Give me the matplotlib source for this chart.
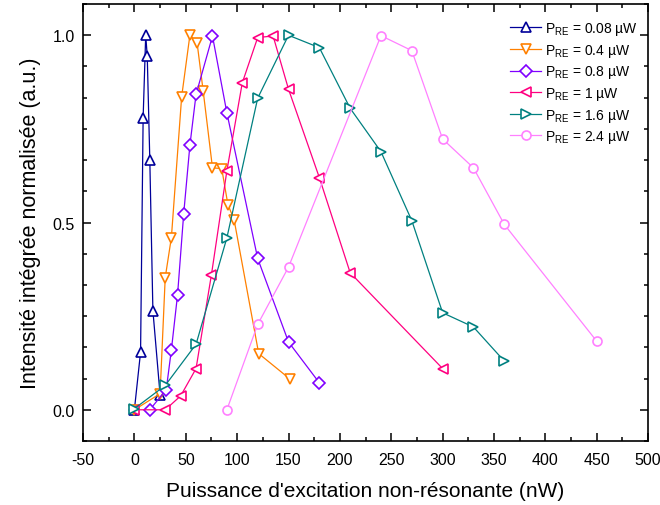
import matplotlib
matplotlib.use('Agg')
import matplotlib.pyplot as plt
from matplotlib.ticker import MultipleLocator, FormatStrFormatter

plt.rcParams['font.family'] = ['Liberation Sans', 'DejaVu Sans']
plt.rcParams['mathtext.fontset'] = 'custom'
plt.rcParams['mathtext.rm'] = 'Liberation Sans'
plt.rcParams['axes.unicode_minus'] = False

# P_RE = 0.08 uW
x1 = [0, 6, 8.5, 11, 12.5, 15, 18, 25]
y1 = [0.0, 0.154, 0.78, 1.0, 0.945, 0.667, 0.265, 0.04]
# P_RE = 0.4 uW
x2 = [0, 25, 30, 36, 46, 54, 61, 67, 76, 85, 91, 97, 121, 151]
y2 = [0.0, 0.043, 0.353, 0.46, 0.836, 1.0, 0.98, 0.85, 0.646, 0.644, 0.548, 0.508, 0.15, 0.083]
# P_RE = 0.8 uW
x3 = [15, 31, 36, 42, 48, 54, 60, 76, 90, 120, 150, 180]
y3 = [0.0, 0.054, 0.16, 0.307, 0.524, 0.706, 0.842, 0.998, 0.793, 0.404, 0.181, 0.072]
# P_RE = 1 uW
x4 = [0, 30, 45, 60, 75, 90, 105, 120, 135, 150, 180, 210, 300]
y4 = [0.0, 0.0, 0.037, 0.11, 0.361, 0.638, 0.873, 0.994, 0.998, 0.856, 0.62, 0.366, 0.11]
# P_RE = 1.6 uW
x5 = [0, 30, 60, 90, 120, 150, 180, 210, 240, 270, 300, 330, 360]
y5 = [0.003, 0.065, 0.175, 0.459, 0.832, 1.0, 0.967, 0.805, 0.689, 0.505, 0.259, 0.221, 0.13]
# P_RE = 2.4 uW
x6 = [90, 120, 150, 240, 270, 300, 330, 360, 450]
y6 = [0.0, 0.228, 0.381, 0.999, 0.959, 0.723, 0.646, 0.495, 0.183]

series = [
    (x1, y1, '#000099', '^', '0.08'),
    (x2, y2, '#FF8000', 'v', '0.4'),
    (x3, y3, '#8000FF', 'D', '0.8'),
    (x4, y4, '#FF0080', '<', '1'),
    (x5, y5, '#008080', '>', '1.6'),
    (x6, y6, '#FF80FF', 'o', '2.4'),
]

fig = plt.figure(figsize=(6.6, 5.06), dpi=100)
ax = fig.add_axes([0.1258, 0.1265, 0.8562, 0.8635])

for x, y, c, m, p in series:
    ms = {'D': 6, 'o': 6.5}.get(m, 7.5)
    ax.plot(x, y, color=c, lw=0.9, marker=m, markersize=ms,
            markerfacecolor='white', markeredgecolor=c, markeredgewidth=1.2,
            label=r'P$_{\mathregular{RE}}$ = ' + p + ' µW')

ax.set_xlim(-50, 500)
ax.set_ylim(-1 / 12, 1 + 1 / 12)
ax.xaxis.set_major_locator(MultipleLocator(50))
ax.xaxis.set_minor_locator(MultipleLocator(25))
ax.yaxis.set_major_locator(MultipleLocator(0.5))
ax.yaxis.set_minor_locator(MultipleLocator(0.5 / 6))
ax.yaxis.set_major_formatter(FormatStrFormatter('%.1f'))

ax.tick_params(which='both', direction='in', top=True, right=True, labelsize=11.5, width=1.1)
ax.tick_params(which='major', length=6)
ax.tick_params(axis='x', which='major', pad=8)
ax.tick_params(axis='y', which='major', pad=6)
ax.tick_params(which='minor', length=3)
for s in ax.spines.values():
    s.set_linewidth(1.2)

ax.set_xlabel("Puissance d'excitation non-résonante (nW)", fontsize=15, labelpad=10)
ax.set_ylabel('Intensité intégrée normalisée (a.u.)', fontsize=15.5, labelpad=8)

ax.legend(loc='upper right', frameon=False, fontsize=10, handlelength=2.2,
          handletextpad=0.3, labelspacing=0.33, borderaxespad=0.2,
          bbox_to_anchor=(0.997, 0.982))

plt.savefig('out.png', dpi=100)
